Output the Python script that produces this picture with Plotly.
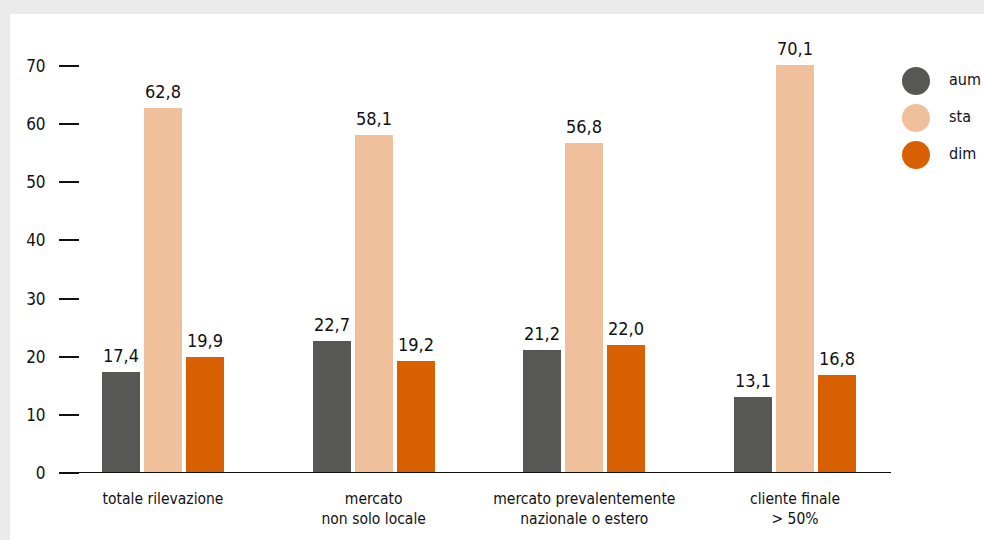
import plotly.graph_objects as go

categories = ["totale rilevazione", "mercato<br>non solo locale",
              "mercato prevalentemente<br>nazionale o estero", "cliente finale<br>> 50%"]
series_names = ["aum", "sta", "dim"]
aum = [17.4, 22.7, 21.2, 13.1]
sta = [62.8, 58.1, 56.8, 70.1]
dim = [19.9, 19.2, 22.0, 16.8]
y_ticks = [0, 10, 20, 30, 40, 50, 60, 70]

colors = ["#575756", "#efc09b", "#d86000"]
FONT = "DejaVu Sans Condensed, Liberation Sans Narrow, Roboto, sans-serif"
TXT = "#111111"

W, H = 984, 540
x0px, x1px = 80, 891
ybot, ytop = 473, 30
step = 632 / 3.0
bw = 38 / step
offs = [-42 / step, 0.0, 42 / step]
xa = -(163 - x0px) / step
xb = xa + (x1px - x0px) / step
y_per = (473 - 66) / 70.0
yr = (ybot - ytop) / y_per

fig = go.Figure()
xs = list(range(len(categories)))
for name, vals, col, off in zip(series_names, [aum, sta, dim], colors, offs):
    fig.add_trace(go.Bar(x=xs, y=vals, name=name, marker_color=col,
                         marker_line_width=0, width=bw, offset=off - bw / 2,
                         showlegend=False, xaxis="x", yaxis="y"))
    for xi, v in zip(xs, vals):
        fig.add_annotation(x=xi + off, y=v, xref="x", yref="y",
                           text=f"{v:.1f}".replace(".", ","), showarrow=False,
                           yanchor="bottom", yshift=4,
                           font=dict(family=FONT, size=18, color=TXT))

# legend drawn on a helper axis
leg_y = [0, 1, 2]
fig.add_trace(go.Scatter(x=[0, 0, 0], y=leg_y, mode="markers",
                         marker=dict(size=28, color=colors, line=dict(width=0)),
                         showlegend=False, xaxis="x2", yaxis="y2", hoverinfo="skip",
                         cliponaxis=False))
fig.add_trace(go.Scatter(x=[33, 33, 33], y=leg_y, mode="text", text=series_names,
                         textposition="middle right", cliponaxis=False,
                         textfont=dict(family=FONT, size=16, color=TXT),
                         showlegend=False, xaxis="x2", yaxis="y2", hoverinfo="skip"))

shapes = [
    # grey frame strips (top and left)
    dict(type="rect", xref="paper", yref="paper", x0=0, x1=1, y0=1 - 14 / H, y1=1,
         fillcolor="#ebebeb", line_width=0, layer="above"),
    dict(type="rect", xref="paper", yref="paper", x0=0, x1=10 / W, y0=0, y1=1,
         fillcolor="#ebebeb", line_width=0, layer="above"),
    # zero baseline
    dict(type="line", xref="paper", yref="y", x0=60 / W, x1=891 / W, y0=0, y1=0,
         line=dict(color="#111111", width=2), layer="above"),
]

fig.update_layout(
    width=W, height=H,
    margin=dict(l=0, r=0, t=0, b=0, autoexpand=False),
    paper_bgcolor="white",
    plot_bgcolor="rgba(0,0,0,0)",
    bargap=0, barmode="overlay",
    font=dict(family=FONT, color=TXT),
    shapes=shapes,
    xaxis=dict(domain=[x0px / W, x1px / W], range=[xa, xb], tickvals=xs, ticktext=categories,
               showgrid=False, zeroline=False, showline=False, ticks="", automargin=False,
               ticklabelstandoff=14, tickfont=dict(family=FONT, size=15.5, color=TXT),
               anchor="y"),
    yaxis=dict(domain=[(H - ybot) / H, (H - ytop) / H], range=[0, yr], tickvals=y_ticks,
               showgrid=False, zeroline=False, showline=False, automargin=False,
               ticks="outside", ticklen=20, tickwidth=2, tickcolor="#111111",
               ticklabelstandoff=10, tickfont=dict(family=FONT, size=17, color=TXT),
               anchor="x"),
    xaxis2=dict(domain=[885.6 / W, 1], range=[-30.4, 68], visible=False, fixedrange=True,
                anchor="y2", automargin=False),
    yaxis2=dict(domain=[0, 1], range=[(540 / 37) - 81 / 37, -81 / 37], visible=False,
                fixedrange=True, anchor="x2", automargin=False),
)

fig.write_html("out.html")
